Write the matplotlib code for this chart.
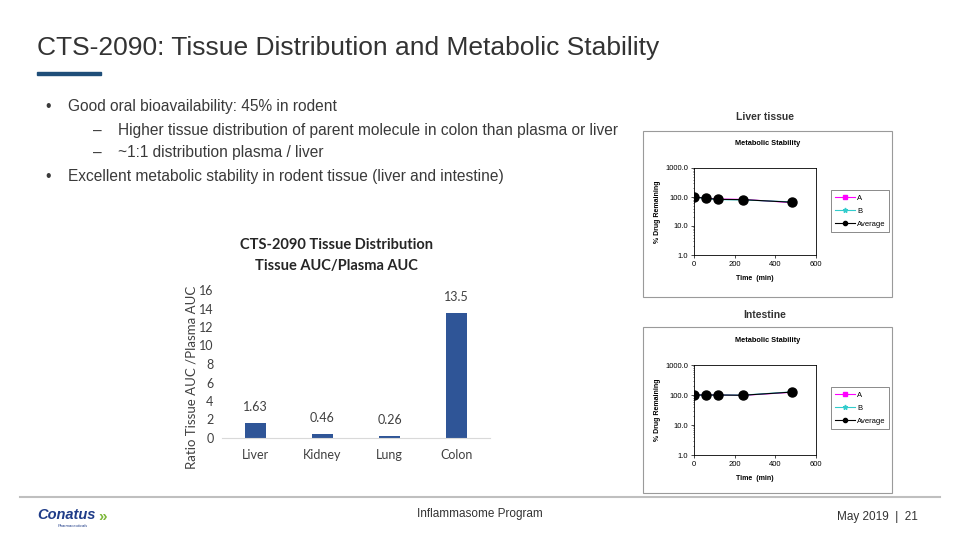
import matplotlib.pyplot as plt
from matplotlib.patches import Rectangle
from matplotlib.lines import Line2D

# bar chart data
tissues = ["Liver", "Kidney", "Lung", "Colon"]
ratios = [1.63, 0.46, 0.26, 13.5]
ratio_labels = ["1.63", "0.46", "0.26", "13.5"]

# metabolic stability data (% drug remaining)
times = [0, 60, 120, 240, 480]
liver_a = [100, 92, 85, 83, 64]
liver_b = [100, 88, 81, 79, 68]
liver_avg = [100, 90, 83, 81, 66]
gut_a = [100, 101, 100, 97, 123]
gut_b = [100, 99, 100, 99, 127]
gut_avg = [100, 100, 100, 98, 125]

W, H = 960, 540
fig = plt.figure(figsize=(9.6, 5.4), dpi=100)
plt.rcParams['font.family'] = ['Liberation Sans', 'DejaVu Sans']


def fx(x):
    return x / W


def fy(y):
    return 1 - y / H


def box(x0, y0, x1, y1):
    return [fx(x0), fy(y1), fx(x1) - fx(x0), fy(y0) - fy(y1)]


# slide title and bullets
dark = '#3a3a3a'
fig.text(fx(37), fy(48), "CTS-2090: Tissue Distribution and Metabolic Stability",
         fontsize=19, color='#333333', va='center')
fig.patches.append(Rectangle((fx(37), fy(75)), fx(64), 3 / H, transform=fig.transFigure,
                             color='#1F4E79', figure=fig))

bullets = [
    (45, 68, 106, "\u2022", "Good oral bioavailability: 45% in rodent"),
    (93, 118, 131, "\u2013", "Higher tissue distribution of parent molecule in colon than plasma or liver"),
    (93, 118, 153, "\u2013", "~1:1 distribution plasma / liver"),
    (45, 68, 177, "\u2022", "Excellent metabolic stability in rodent tissue (liver and intestine)"),
]
for bx, tx, y, sym, txt in bullets:
    fig.text(fx(bx), fy(y), sym, fontsize=11.2, color=dark, va='center')
    fig.text(fx(tx), fy(y), txt, fontsize=11.2, color=dark, va='center')

# bar chart
calib = ['Lato', 'DejaVu Sans']
ax = fig.add_axes(box(222, 290, 490, 438))
x = range(len(tissues))
ax.bar(x, ratios, width=0.3, color='#2F5597')
for i, v in enumerate(ratios):
    ax.annotate(ratio_labels[i], (i, v), xytext=(0, 7), textcoords='offset points',
                ha='center', va='bottom', fontsize=9, color='#404040', family=calib)
ax.set_xlim(-0.5, 3.5)
ax.set_ylim(0, 16)
ax.set_yticks(range(0, 17, 2))
ax.set_xticks(list(x))
ax.set_xticklabels(tissues)
ax.tick_params(length=0, labelsize=9, labelcolor='#404040')
ax.tick_params(axis='x', pad=8)
ax.tick_params(axis='y', pad=6)
for lab in ax.get_xticklabels() + ax.get_yticklabels():
    lab.set_family(calib)
for s in ['top', 'right', 'left']:
    ax.spines[s].set_visible(False)
ax.spines['bottom'].set_color('#D9D9D9')
ax.set_ylabel("Ratio Tissue AUC /Plasma AUC", fontsize=9.5, color='#404040', family=calib)
ax.yaxis.set_label_coords(-0.093, 0.41)
fig.text(fx(336), fy(245), "CTS-2090 Tissue Distribution", ha='center', va='center',
         fontsize=10.5, fontweight='bold', color='#262626', family=calib)
fig.text(fx(336), fy(266), "Tissue AUC/Plasma AUC", ha='center', va='center',
         fontsize=10.5, fontweight='bold', color='#262626', family=calib)


# metabolic stability panels
def stability_panel(label, ty, bx0, by0, bx1, by1, axbox, legbox, a, b, avg):
    fig.text(fx(765), fy(ty), label, ha='center', va='center', fontsize=7.5, fontweight='bold', color='#333333')
    fig.patches.append(Rectangle((fx(bx0), fy(by1)), fx(bx1) - fx(bx0), fy(by0) - fy(by1),
                                 transform=fig.transFigure, fill=False, edgecolor='#9a9a9a', lw=0.8, figure=fig))
    fig.text(fx(768), fy(by0 + 13), "Metabolic Stability", ha='center', va='center',
             fontsize=5.3, fontweight='bold')
    sa = fig.add_axes(box(*axbox))
    sa.plot(times, a, color='#FF00FF', marker='s', ms=2.5, lw=0.8, label='A')
    sa.plot(times, b, color='#33CCCC', marker='*', ms=3, lw=0.8, label='B')
    sa.plot(times, avg, color='black', marker='o', ms=6.5, lw=0.8)
    sa.set_yscale('log')
    sa.set_ylim(1, 1000)
    sa.set_xlim(0, 600)
    sa.set_xticks([0, 200, 400, 600])
    sa.set_yticks([1, 10, 100, 1000])
    sa.set_yticklabels(["1.0", "10.0", "100.0", "1000.0"])
    sa.tick_params(labelsize=5.5, length=2, width=0.5, pad=2)
    sa.tick_params(which='minor', length=1, width=0.4)
    for s in sa.spines.values():
        s.set_linewidth(0.6)
    sa.set_xlabel("Time  (min)", fontsize=5, fontweight='bold', labelpad=5)
    sa.set_ylabel("% Drug Remaining", fontsize=5, fontweight='bold', labelpad=3)
    handles = [Line2D([], [], color='#FF00FF', marker='s', ms=3, lw=0.8),
               Line2D([], [], color='#33CCCC', marker='*', ms=3.5, lw=0.8),
               Line2D([], [], color='black', marker='o', ms=3, lw=0.8)]
    leg = sa.legend(handles, ['A', 'B', 'Average'], loc='center left',
                    bbox_to_anchor=(fx(legbox[0]), fy(legbox[1])), bbox_transform=fig.transFigure,
                    fontsize=5.5, frameon=True, fancybox=False, handlelength=2.6,
                    labelspacing=0.75, borderpad=0.5, handletextpad=0.3, borderaxespad=0)
    leg.get_frame().set_edgecolor('#555555')
    leg.get_frame().set_linewidth(0.6)


stability_panel("Liver tissue", 117, 643, 131, 892, 297, (694, 168, 816, 255), (831, 211),
                liver_a, liver_b, liver_avg)
stability_panel("Intestine", 315, 643, 327, 892, 493, (694, 365, 816, 455), (831, 408),
                gut_a, gut_b, gut_avg)

# footer
fig.lines.append(Line2D([fx(20), fx(940)], [fy(497), fy(497)], transform=fig.transFigure,
                        color='#bfbfbf', lw=1.5))
fig.text(fx(37), fy(515), "Conatus", fontsize=10.5, fontweight='bold', style='italic',
         color='#1F3C88', va='center')
fig.text(fx(98), fy(517), "\u00bb", fontsize=11, color='#7DB83A', va='center', fontweight='bold')
fig.text(fx(58), fy(526), "Pharmaceuticals", fontsize=3, color='#1F3C88', va='center', style='italic')
fig.text(fx(480), fy(514), "Inflammasome Program", fontsize=8.5, color='#333333', ha='center', va='center')
fig.text(fx(918), fy(517), "May 2019  |  21", fontsize=8.5, color='#333333', ha='right', va='center')

fig.savefig("out.png", dpi=100)
